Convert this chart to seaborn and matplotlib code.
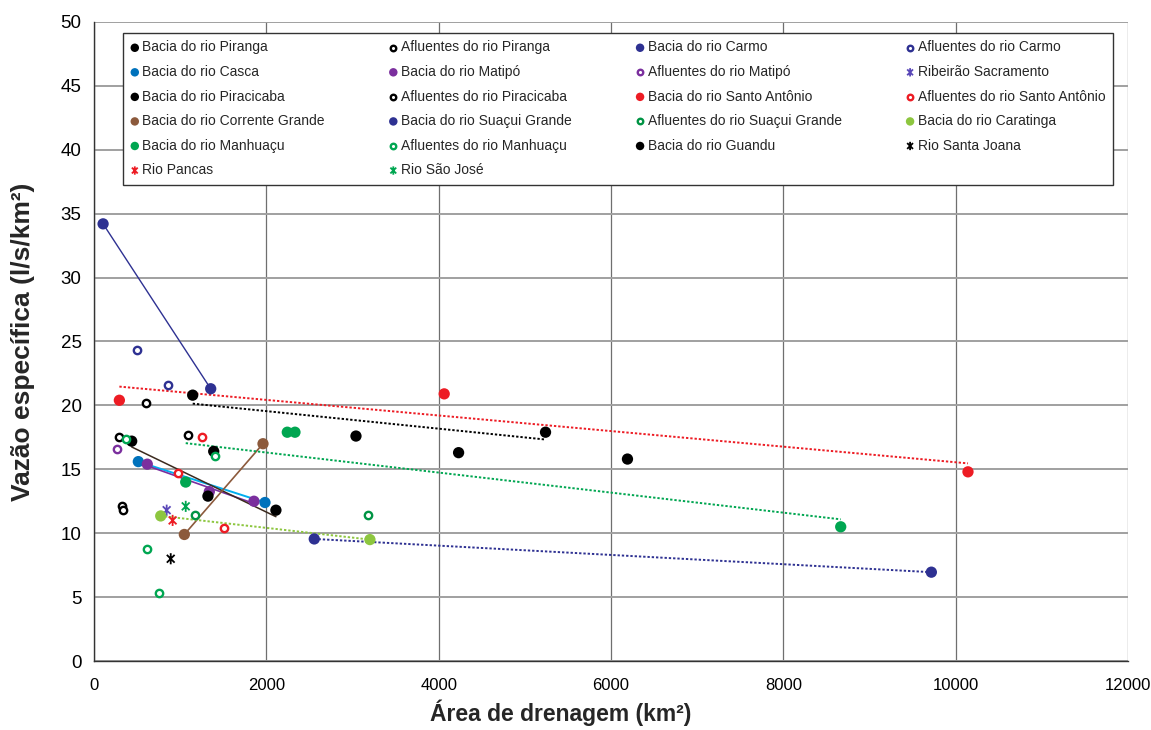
import numpy as np
import matplotlib
matplotlib.use("Agg")
import matplotlib.pyplot as plt
from matplotlib.path import Path
import seaborn as sns

# --- data (area km2, specific flow l/s/km2) ---
piranga_x = [1389, 4231, 6191]
piranga_y = [16.4, 16.3, 15.8]
afl_piranga_x = [290, 328, 340]
afl_piranga_y = [17.5, 12.1, 11.8]
carmo_x = [105, 1354]
carmo_y = [34.2, 21.3]
afl_carmo_x = [499, 855]
afl_carmo_y = [24.3, 21.6]
casca_x = [514, 1984]
casca_y = [15.6, 12.4]
matipo_x = [618, 1338, 1856]
matipo_y = [15.4, 13.25, 12.5]
afl_matipo_x = [270]
afl_matipo_y = [16.6]
sacramento_x = [843]
sacramento_y = [11.8]
piracicaba_x = [437, 1322, 2111]
piracicaba_y = [17.2, 12.9, 11.8]
afl_piracicaba_x = [603, 1087]
afl_piracicaba_y = [20.2, 17.7]
santo_antonio_x = [294, 4064, 10143]
santo_antonio_y = [20.4, 20.9, 14.8]
afl_santo_antonio_x = [1249, 974, 1511]
afl_santo_antonio_y = [17.5, 14.7, 10.4]
corrente_x = [1048, 1961]
corrente_y = [9.9, 17.0]
suacui_x = [2556, 9718]
suacui_y = [9.55, 6.95]
afl_suacui_x = [1172, 3175]
afl_suacui_y = [11.4, 11.4]
caratinga_x = [774, 3202]
caratinga_y = [11.35, 9.5]
manhuacu_x = [1064, 2243, 2332, 8666]
manhuacu_y = [14.0, 17.9, 17.9, 10.5]
afl_manhuacu_x = [375, 1404, 615, 754]
afl_manhuacu_y = [17.4, 16.0, 8.8, 5.3]
guandu_x = [1145, 3040, 5240]
guandu_y = [20.8, 17.6, 17.9]
santa_joana_x = [890]
santa_joana_y = [8.0]
pancas_x = [912]
pancas_y = [11.0]
sao_jose_x = [1064]
sao_jose_y = [12.1]

x_ticks = [0, 2000, 4000, 6000, 8000, 10000, 12000]
y_ticks = [0, 5, 10, 15, 20, 25, 30, 35, 40, 45, 50]

# asterisk marker like the spreadsheet "star"
ASTER = Path([(0, -1), (0, 1), (-0.7, -0.7), (0.7, 0.7), (-0.7, 0.7), (0.7, -0.7)],
             [Path.MOVETO, Path.LINETO] * 3)

BLACK = "#000000"
NAVY = "#2E3192"
BLUE = "#0072BC"
PURPLE = "#7B2F9E"
RED = "#ED1C24"
BROWN = "#8C5A3C"
GREEN = "#00A651"
LGREEN = "#8DC63F"

# (label, x, y, color, kind) in row-major legend order
groups = [
    ("Bacia do rio Piranga", piranga_x, piranga_y, BLACK, "filled"),
    ("Afluentes do rio Piranga", afl_piranga_x, afl_piranga_y, BLACK, "open"),
    ("Bacia do rio Carmo", carmo_x, carmo_y, NAVY, "filled"),
    ("Afluentes do rio Carmo", afl_carmo_x, afl_carmo_y, NAVY, "open"),
    ("Bacia do rio Casca", casca_x, casca_y, BLUE, "filled"),
    ("Bacia do rio Matipó", matipo_x, matipo_y, PURPLE, "filled"),
    ("Afluentes do rio Matipó", afl_matipo_x, afl_matipo_y, PURPLE, "open"),
    ("Ribeirão Sacramento", sacramento_x, sacramento_y, "#5A48B8", "star"),
    ("Bacia do rio Piracicaba", piracicaba_x, piracicaba_y, BLACK, "filled"),
    ("Afluentes do rio Piracicaba", afl_piracicaba_x, afl_piracicaba_y, BLACK, "open"),
    ("Bacia do rio Santo Antônio", santo_antonio_x, santo_antonio_y, RED, "filled"),
    ("Afluentes do rio Santo Antônio", afl_santo_antonio_x, afl_santo_antonio_y, RED, "open"),
    ("Bacia do rio Corrente Grande", corrente_x, corrente_y, BROWN, "filled"),
    ("Bacia do rio Suaçui Grande", suacui_x, suacui_y, NAVY, "filled"),
    ("Afluentes do rio Suaçui Grande", afl_suacui_x, afl_suacui_y, "#009444", "open"),
    ("Bacia do rio Caratinga", caratinga_x, caratinga_y, LGREEN, "filled"),
    ("Bacia do rio Manhuaçu", manhuacu_x, manhuacu_y, GREEN, "filled"),
    ("Afluentes do rio Manhuaçu", afl_manhuacu_x, afl_manhuacu_y, GREEN, "open"),
    ("Bacia do rio Guandu", guandu_x, guandu_y, BLACK, "filled"),
    ("Rio Santa Joana", santa_joana_x, santa_joana_y, BLACK, "star"),
    ("Rio Pancas", pancas_x, pancas_y, RED, "star"),
    ("Rio São José", sao_jose_x, sao_jose_y, GREEN, "star"),
]

# linear trend lines (group x, group y, color, linestyle, width)
DOT = (0, (1.2, 1.0))
trends = [
    (carmo_x, carmo_y, NAVY, "-", 1.0),
    (casca_x, casca_y, "#00AEEF", "-", 1.4),
    (matipo_x, matipo_y, PURPLE, "-", 1.2),
    (piracicaba_x, piracicaba_y, "#3B2A1E", "-", 1.1),
    (corrente_x, corrente_y, BROWN, "-", 1.2),
    (santo_antonio_x, santo_antonio_y, RED, DOT, 1.4),
    (guandu_x, guandu_y, BLACK, DOT, 1.4),
    (manhuacu_x, manhuacu_y, GREEN, DOT, 1.4),
    (caratinga_x, caratinga_y, LGREEN, DOT, 1.4),
    (suacui_x, suacui_y, NAVY, DOT, 1.4),
]

sns.set_style("white")
plt.rcParams['font.family'] = ['Liberation Sans', 'DejaVu Sans']

fig, ax = plt.subplots(figsize=(11.51, 7.30), dpi=100)
fig.subplots_adjust(left=0.0817, right=0.980, bottom=0.0945, top=0.970)

for tx, ty, c, ls, lw in trends:
    sns.regplot(x=np.array(tx), y=np.array(ty), ax=ax, scatter=False, ci=None,
                truncate=True, color=c, line_kws=dict(lw=lw, ls=ls, zorder=2))

for label, gx, gy, c, kind in groups:
    if kind == "filled":
        sns.scatterplot(x=gx, y=gy, ax=ax, color=c, s=66, marker="o",
                        edgecolor="none", label=label, zorder=4)
    elif kind == "open":
        sns.scatterplot(x=gx, y=gy, ax=ax, color=c, s=28, marker="o",
                        facecolor="white", edgecolor=c, linewidth=1.7,
                        label=label, zorder=4)
    else:
        sns.scatterplot(x=gx, y=gy, ax=ax, color=c, s=64, marker=ASTER,
                        facecolor="none", edgecolor=c, linewidth=1.3,
                        label=label, zorder=4)

ax.set_xlim(0, 12000)
ax.set_ylim(0, 50)
ax.set_xticks(x_ticks)
ax.set_yticks(y_ticks)
ax.set_xticklabels([str(t) for t in x_ticks], fontsize=12)
ax.set_yticklabels([str(t) for t in y_ticks], fontsize=13.5)

ax.grid(axis='y', color='#a0a0a0', lw=1.4)
ax.grid(axis='x', color='#6f6f6f', lw=0.9)
ax.set_axisbelow(True)
for side in ['top', 'right']:
    ax.spines[side].set_visible(False)
for side in ['left', 'bottom']:
    ax.spines[side].set_color('#333333')
    ax.spines[side].set_linewidth(1.0)
ax.tick_params(axis='both', direction='out', length=5, width=1, color='#333333',
               pad=4, colors='black')
ax.tick_params(axis='x', pad=7)

ax.set_ylabel("Vazão específica (l/s/km²)", fontsize=19, fontweight='bold')
ax.yaxis.set_label_coords(-0.057, 0.5)
ax.set_xlabel("Área de drenagem (km²)", fontsize=16.5, fontweight='bold')
ax.xaxis.set_label_coords(0.451, -0.060)

# legend: 4 columns filled row by row, as in the original
handles, labels = ax.get_legend_handles_labels()
ncol = 4
order = [i for col in range(ncol) for i in range(col, len(handles), ncol)]
leg = ax.legend([handles[i] for i in order], [labels[i] for i in order],
                ncol=ncol, loc='upper left', mode='expand',
                bbox_to_anchor=(0.028, 0.748, 0.9575, 0.235),
                fontsize=10, frameon=True, fancybox=False, framealpha=1,
                edgecolor='#333333', handlelength=0.6, handletextpad=0.25,
                labelspacing=0.76, borderpad=0.55, borderaxespad=0,
                markerscale=0.75)
leg.get_frame().set_linewidth(1.0)

plt.savefig('out.png', dpi=100)
